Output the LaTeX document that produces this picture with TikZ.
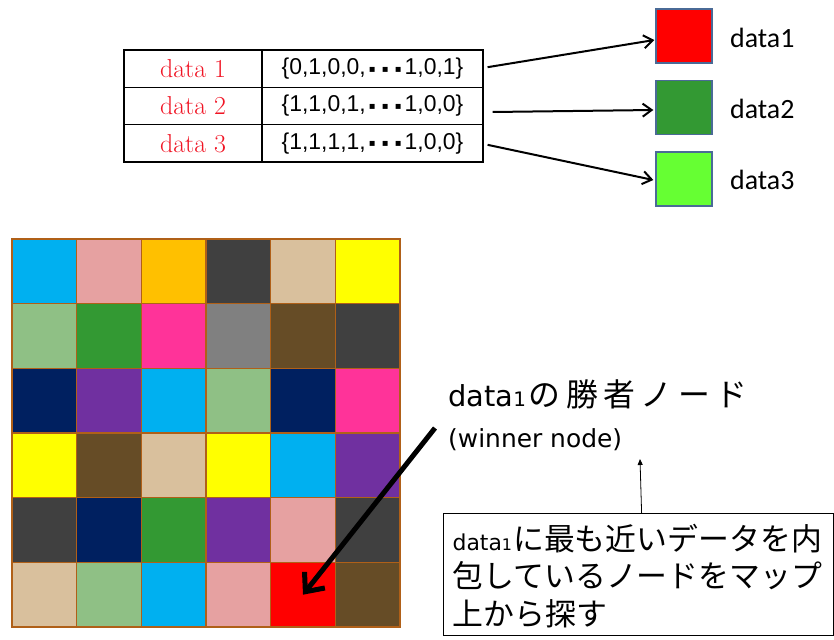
\documentclass[tikz,border=0pt]{standalone}
\usepackage{fontspec}
\usetikzlibrary{arrows.meta}

\newfontfamily\jpfont{Noto Sans CJK JP}
\newfontfamily\jpwide[LetterSpace=17]{Noto Sans CJK JP}
\newfontfamily\latinfont{DejaVu Sans}
\newfontfamily\seqfont{Liberation Sans}
\newfontfamily\dotfont{DejaVu Sans}
\newfontfamily\labelfont{Carlito}
\newcommand\fsz[1]{\fontsize{#1}{#1}\selectfont}
% small square separator used in the bit sequences
\newcommand\sqd{\makebox[13bp]{\raisebox{2.5bp}{\dotfont\fsz{10}▪}}}

% map colours
\definecolor{cCy}{HTML}{00B0F0}
\definecolor{cPk}{HTML}{E6A1A1}
\definecolor{cOr}{HTML}{FFC000}
\definecolor{cDg}{HTML}{404040}
\definecolor{cTn}{HTML}{D9C09D}
\definecolor{cYe}{HTML}{FFFF00}
\definecolor{cLg}{HTML}{8FC085}
\definecolor{cGn}{HTML}{339933}
\definecolor{cMg}{HTML}{FF3399}
\definecolor{cGy}{HTML}{808080}
\definecolor{cBr}{HTML}{664C26}
\definecolor{cNv}{HTML}{002060}
\definecolor{cPu}{HTML}{7030A0}
\definecolor{cRd}{HTML}{FF0000}
\definecolor{cLime}{HTML}{66FF33}
\definecolor{cellline}{HTML}{B06018}
\definecolor{swatchline}{HTML}{4A6A96}
\definecolor{tabred}{HTML}{F01424}

\tikzset{
  tcell/.style={draw=black, line width=1.2bp, inner sep=0pt, minimum height=37.33bp},
  swatch/.style={draw=swatchline, line width=1.3bp, inner sep=0pt, minimum width=56bp, minimum height=54bp},
  cell/.style={draw=cellline, line width=1.6bp, inner sep=0pt, minimum size=64.67bp},
  feed/.style={draw=black, line width=2bp, -{Straight Barb[length=9bp,width=13bp,line width=2bp]}},
  bigarrow/.style={draw=black, line width=5bp, -{Straight Barb[length=15bp,width=26bp,line width=5bp]}},
  thinarrow/.style={draw=black, line width=0.8bp, -{Triangle[length=6bp,width=5bp]}},
  notebox/.style={draw=black, line width=1.2bp, inner xsep=9bp, inner ysep=0pt,
    anchor=north west, align=left, text width=372bp,
    font=\jpfont\fontsize{31}{37.5}\selectfont}
}

\begin{document}
\begin{tikzpicture}[x=1bp,y=-1bp]
\useasboundingbox (0,0) rectangle (834,640);

% data table
\node[tcell, minimum width=138bp] (l1) at (193,68.67)  {\color{tabred}\fsz{26}data 1};
\node[tcell, minimum width=138bp] (l2) at (193,106)    {\color{tabred}\fsz{26}data 2};
\node[tcell, minimum width=138bp] (l3) at (193,143.33) {\color{tabred}\fsz{26}data 3};
\node[tcell, minimum width=221bp] (v1) at (372.5,68.67)  {\seqfont\fsz{23}\{0,1,0,0,\sqd\sqd\sqd1,0,1\}};
\node[tcell, minimum width=221bp] (v2) at (372.5,106)    {\seqfont\fsz{23}\{1,1,0,1,\sqd\sqd\sqd1,0,0\}};
\node[tcell, minimum width=221bp] (v3) at (372.5,143.33) {\seqfont\fsz{23}\{1,1,1,1,\sqd\sqd\sqd1,0,0\}};

% colour swatches and their labels
\node[swatch, fill=cRd]   (s1) at (684,36)    {};
\node[swatch, fill=cGn]   (s2) at (684,107.5) {};
\node[swatch, fill=cLime] (s3) at (684,179)   {};
\node[anchor=west, inner sep=0pt] (t1) at (730,37.5)  {\labelfont\fsz{28}data1};
\node[anchor=west, inner sep=0pt] (t2) at (730,108.5) {\labelfont\fsz{28}data2};
\node[anchor=west, inner sep=0pt] (t3) at (730,180)   {\labelfont\fsz{28}data3};

\draw[feed] ([shift={(4,-1.5)}]v1.east) -- ([shift={(-1,4)}]s1.west);
\draw[feed] ([shift={(9,6)}]v2.east)    -- ([shift={(-2,2.5)}]s2.west);
\draw[feed] ([shift={(4,1.5)}]v3.east)  -- ([shift={(-2,1)}]s3.west);

% 6x6 map of nodes
\foreach \row [count=\r] in {
  {cCy,cPk,cOr,cDg,cTn,cYe},
  {cLg,cGn,cMg,cGy,cBr,cDg},
  {cNv,cPu,cCy,cLg,cNv,cMg},
  {cYe,cBr,cTn,cYe,cCy,cPu},
  {cDg,cNv,cGn,cPu,cPk,cDg},
  {cTn,cLg,cCy,cPk,cRd,cBr}}{
  \foreach \c [count=\k] in \row {
    \node[cell, fill=\c] (c\r\k) at ({12+(\k-0.5)*64.67},{239+(\r-0.5)*64.67}) {};
  }
}

% winner node annotation
\node[anchor=base west, inner sep=0pt] (win) at (448,406)
  {{\latinfont\fsz{29}data{\fsz{20}1}}\kern3bp{\jpwide\fsz{32}の勝者ノード}};
\node[anchor=base west, inner sep=0pt] (wineng) at (448,447)
  {\latinfont\fsz{25}(winner node)};
\coordinate (bigstart) at (435,428);
\draw[bigarrow] (bigstart) -- (c65.center);

% search note
\node[notebox] (note) at (443,513) {%
  \rule{0pt}{37bp}{\latinfont\fsz{22}data{\fsz{16}1}}\kern1bp に最も近いデータを内\\
  包しているノードをマップ\\
  上から探す\rule[-10bp]{0pt}{10bp}};
\coordinate (notetip) at (640,459);
\draw[thinarrow] ([xshift=3bp]note.north) -- (notetip);
\end{tikzpicture}
\end{document}
